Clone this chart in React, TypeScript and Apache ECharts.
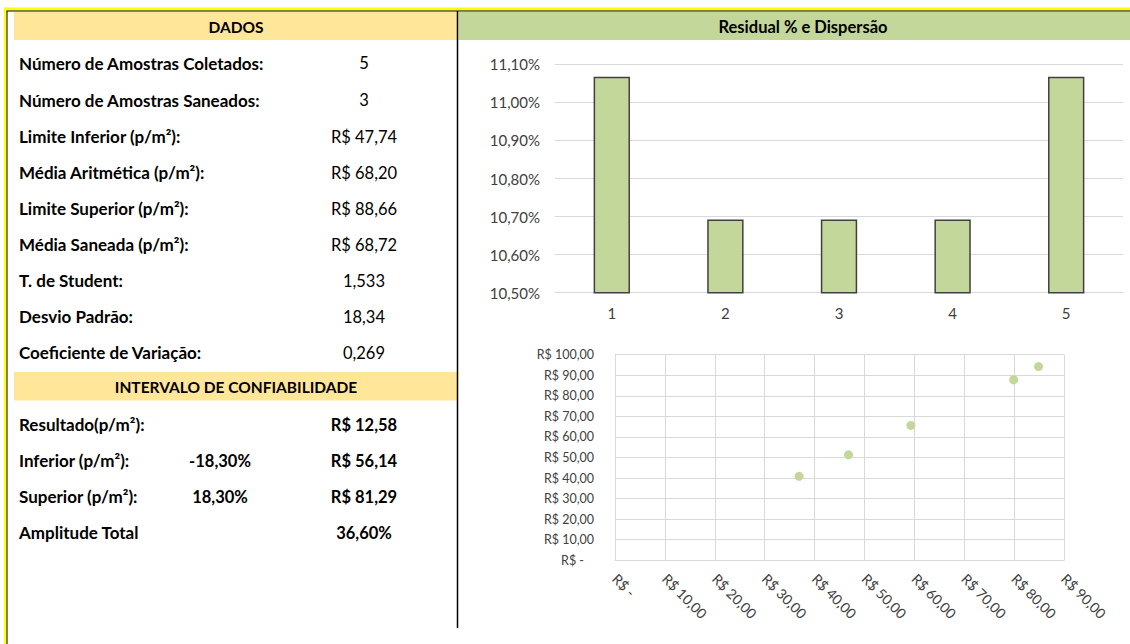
import React, { useEffect, useRef } from "react";
import * as echarts from "echarts";

// ---------- data ----------
const barCategories = ["1", "2", "3", "4", "5"];
const residualPct = [11.067, 10.692, 10.692, 10.692, 11.067];
const residualAxis = { min: 10.5, max: 11.1, step: 0.1 };

const scatterX = [36.9, 46.8, 59.3, 79.9, 84.9];
const scatterY = [40.8, 51.3, 65.6, 87.8, 94.2];
const scatterXAxis = { min: 0, max: 90, step: 10 };
const scatterYAxis = { min: 0, max: 100, step: 10 };

const dadosTitle = "DADOS";
const dadosLabels = [
  "Número de Amostras Coletados:",
  "Número de Amostras Saneados:",
  "Limite Inferior (p/m²):",
  "Média Aritmética (p/m²):",
  "Limite Superior (p/m²):",
  "Média Saneada (p/m²):",
  "T. de Student:",
  "Desvio Padrão:",
  "Coeficiente de Variação:",
];
const dadosValues = ["5", "3", "R$ 47,74", "R$ 68,20", "R$ 88,66", "R$ 68,72", "1,533", "18,34", "0,269"];

const intervaloTitle = "INTERVALO DE CONFIABILIDADE";
const intervaloLabels = ["Resultado(p/m²):", "Inferior (p/m²):", "Superior (p/m²):", "Amplitude Total"];
const intervaloPct = ["", "-18,30%", "18,30%", ""];
const intervaloValues = ["R$ 12,58", "R$ 56,14", "R$ 81,29", "36,60%"];

const chartTitle = "Residual % e Dispersão";

// ---------- styling ----------
const FONT = "Lato, 'Open Sans', sans-serif";
const YELLOW_HDR = "#FFE699";
const GREEN = "#C4D79B";
const AXIS_TXT = "#404040";
const GRID = "#D9D9D9";

const brl = (v: number) =>
  v === 0 ? "{z|R$ -}" : "R$ " + v.toFixed(2).replace(".", ",");

export default function App() {
  const ref = useRef<HTMLDivElement>(null);

  useEffect(() => {
    if (!ref.current) return;
    const chart = echarts.init(ref.current, undefined, { renderer: "svg" });

    const dadosRowY = [63, 100, 136.5, 172.5, 208.5, 244.5, 280.5, 316.5, 352.5];
    const intRowY = [424.5, 460.8, 496.8, 532.5];
    const SZ = 16.5;
    const LBL = 17;
    const HDR = 15.5;

    const txt = (text: string, x: number, y: number, align: string, bold: boolean, size = SZ) => ({
      type: "text",
      x,
      y,
      silent: true,
      style: {
        text,
        fill: "#000000",
        font: `${bold ? "bold " : ""}${size}px ${FONT}`,
        textAlign: align,
        textVerticalAlign: "middle",
      },
    });

    const graphics: any[] = [
      // outer yellow frame
      { type: "rect", shape: { x: 4, y: 7.5, width: 1126, height: 3 }, style: { fill: "#FFFF00" } },
      { type: "rect", shape: { x: 4, y: 7.5, width: 2.5, height: 637 }, style: { fill: "#FFFF00" } },
      { type: "line", shape: { x1: 6.5, y1: 11, x2: 1130, y2: 11 }, style: { stroke: "#000", lineWidth: 1 } },
      { type: "line", shape: { x1: 7, y1: 11, x2: 7, y2: 644 }, style: { stroke: "#000", lineWidth: 1 } },
      // headers
      { type: "rect", shape: { x: 14, y: 12, width: 443, height: 28 }, style: { fill: YELLOW_HDR } },
      { type: "rect", shape: { x: 14, y: 372, width: 443, height: 28.5 }, style: { fill: YELLOW_HDR } },
      { type: "rect", shape: { x: 458.5, y: 12, width: 672, height: 28 }, style: { fill: GREEN } },
      // divider
      { type: "line", shape: { x1: 457.5, y1: 11, x2: 457.5, y2: 628 }, style: { stroke: "#000", lineWidth: 1.5 } },
      txt(dadosTitle, 236, 26.5, "center", true, HDR),
      txt(intervaloTitle, 236, 386.5, "center", true, HDR),
      txt(chartTitle, 803, 26.5, "center", true),
    ];
    dadosLabels.forEach((l, i) => {
      graphics.push(txt(l, 19, dadosRowY[i], "left", true, LBL));
      graphics.push(txt(dadosValues[i], 364, dadosRowY[i], "center", false));
    });
    intervaloLabels.forEach((l, i) => {
      graphics.push(txt(l, 19, intRowY[i], "left", true, LBL));
      if (intervaloPct[i]) graphics.push(txt(intervaloPct[i], 220, intRowY[i], "center", true));
      graphics.push(txt(intervaloValues[i], 364, intRowY[i], "center", true));
    });

    chart.setOption({
      animation: false,
      textStyle: { fontFamily: FONT },
      graphic: { elements: graphics },
      grid: [
        { left: 555, right: 7, top: 64.3, bottom: 644 - 292.7, containLabel: false },
        { left: 615, right: 1130 - 1064, top: 354.7, bottom: 644 - 560.2, containLabel: false },
      ],
      xAxis: [
        {
          type: "category",
          gridIndex: 0,
          data: barCategories,
          axisLine: { lineStyle: { color: GRID, width: 1 } },
          axisTick: { show: false },
          axisLabel: { color: AXIS_TXT, fontSize: 15, margin: 13, fontFamily: FONT },
        },
        {
          type: "value",
          gridIndex: 1,
          min: scatterXAxis.min,
          max: scatterXAxis.max,
          interval: scatterXAxis.step,
          axisLine: { show: true, lineStyle: { color: GRID } },
          axisTick: { show: false },
          splitLine: { show: true, lineStyle: { color: GRID } },
          axisLabel: {
            color: AXIS_TXT,
            fontSize: 14,
            rotate: -45,
            margin: 16,
            fontFamily: FONT,
            formatter: (v: number) => (v === 0 ? "R$ -" : "R$ " + v.toFixed(2).replace(".", ",")),
          },
        },
      ],
      yAxis: [
        {
          type: "value",
          gridIndex: 0,
          min: residualAxis.min,
          max: residualAxis.max,
          interval: residualAxis.step,
          axisLine: { show: false },
          axisTick: { show: false },
          splitLine: { lineStyle: { color: GRID } },
          axisLabel: {
            color: AXIS_TXT,
            fontSize: 15,
            margin: 15,
            fontFamily: FONT,
            formatter: (v: number) => v.toFixed(2).replace(".", ",") + "%",
          },
        },
        {
          type: "value",
          gridIndex: 1,
          min: scatterYAxis.min,
          max: scatterYAxis.max,
          interval: scatterYAxis.step,
          axisLine: { show: true, lineStyle: { color: GRID } },
          axisTick: { show: false },
          splitLine: { show: true, lineStyle: { color: GRID } },
          axisLabel: {
            color: AXIS_TXT,
            fontSize: 12.5,
            margin: 21,
            fontFamily: FONT,
            formatter: brl,
            rich: { z: { color: AXIS_TXT, fontSize: 12.5, fontFamily: FONT, padding: [0, 10, 0, 0] } },
          },
        },
      ],
      series: [
        {
          type: "bar",
          xAxisIndex: 0,
          yAxisIndex: 0,
          data: residualPct,
          barWidth: "32%",
          itemStyle: { color: GREEN, borderColor: "#404040", borderWidth: 1.5 },
        },
        {
          type: "scatter",
          xAxisIndex: 1,
          yAxisIndex: 1,
          data: scatterX.map((x, i) => [x, scatterY[i]]),
          symbolSize: 9,
          itemStyle: { color: GREEN, opacity: 1 },
        },
      ],
    });

    return () => chart.dispose();
  }, []);

  return (
    <div
      ref={ref}
      style={{ position: "fixed", left: 0, top: 0, width: 1130, height: 644, background: "#fff" }}
    />
  );
}
